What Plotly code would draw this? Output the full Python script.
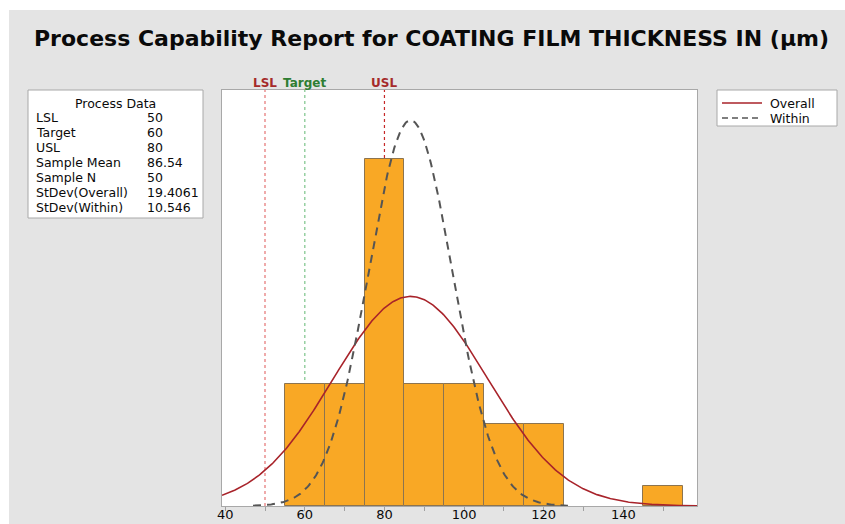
import numpy as np
import plotly.graph_objects as go

# ---------------- data ----------------
bin_left = [55, 65, 75, 85, 95, 105, 115, 145]
bin_counts = [6, 6, 17, 6, 6, 4, 4, 1]
bin_width = 10

lsl, target, usl = 50, 60, 80
sample_mean = 86.54
sample_n = 50
sd_overall = 19.4061
sd_within = 10.546

spec_names = ["LSL", "Target", "USL"]
spec_values = [lsl, target, usl]

pd_labels = ["LSL", "Target", "USL", "Sample Mean", "Sample N", "StDev(Overall)", "StDev(Within)"]
pd_values = ["50", "60", "80", "86.54", "50", "19.4061", "10.546"]

legend_names = ["Overall", "Within"]
x_ticks = [40, 60, 80, 100, 120, 140]
title_text = "Process Capability Report for COATING FILM THICKNESS IN (µm)"

# ---------------- layout helpers ----------------
W, H = 845, 524
L, R, T, B = 222, 697, 90, 506
pw, ph = R - L, B - T

def px(x):
    return (x - L) / pw

def py(y):
    return (B - y) / ph

FONT = "DejaVu Sans"
TXT = "#0A0A0A"

# ---------------- fitted normal curves (from the process data) ----------------
def normal_pdf(x, mu, sd):
    return np.exp(-0.5 * ((x - mu) / sd) ** 2) / (sd * np.sqrt(2 * np.pi))

x_lo, x_hi = 39.2, 158.5
xo = np.linspace(x_lo, x_hi, 400)
xw = np.linspace(sample_mean - 3.75 * sd_within, sample_mean + 3.75 * sd_within, 300)

OVERALL_COLOR = "#A8232A"
WITHIN_COLOR = "#555555"
WITHIN_DASH = "8px,6px"

fig = go.Figure()

centers = [b + bin_width / 2 for b in bin_left]
density = [c / (sample_n * bin_width) for c in bin_counts]
fig.add_trace(go.Bar(
    x=centers, y=density, width=[bin_width] * len(bin_left),
    marker=dict(color="#F9A825", line=dict(color="#8C7450", width=1)),
    showlegend=False, hoverinfo="skip",
))
fig.add_trace(go.Scatter(
    x=xo, y=normal_pdf(xo, sample_mean, sd_overall), mode="lines", name=legend_names[0],
    line=dict(color=OVERALL_COLOR, width=1.6), showlegend=False,
))
fig.add_trace(go.Scatter(
    x=xw, y=normal_pdf(xw, sample_mean, sd_within), mode="lines", name=legend_names[1],
    line=dict(color=WITHIN_COLOR, width=2, dash=WITHIN_DASH), showlegend=False,
))

shapes = []
annotations = []

# white strips at top/left of the image
shapes.append(dict(type="rect", xref="paper", yref="paper", x0=px(0), x1=px(W), y0=py(10), y1=py(0),
                   fillcolor="white", line=dict(width=0), layer="below"))
shapes.append(dict(type="rect", xref="paper", yref="paper", x0=px(0), x1=px(9), y0=py(H), y1=py(0),
                   fillcolor="white", line=dict(width=0), layer="below"))

# spec lines
spec_line_colors = ["#E57373", "#7CC48A", "#C62828"]
spec_text_colors = ["#A52A2A", "#2E7D32", "#A52A2A"]
for name, v, lc, tc in zip(spec_names, spec_values, spec_line_colors, spec_text_colors):
    shapes.append(dict(type="line", xref="x", yref="paper", x0=v, x1=v, y0=0, y1=1,
                       line=dict(color=lc, width=1.2, dash="3px,3px"), layer="below"))
    annotations.append(dict(x=v, y=py(83), xref="x", yref="paper", text=name, showarrow=False,
                            xanchor="center", yanchor="middle", borderpad=0,
                            font=dict(family=FONT, size=12, color=tc, weight="bold")))

# process data box
PD_SIZE = 12.5
shapes.append(dict(type="rect", xref="paper", yref="paper", x0=px(28), x1=px(203), y0=py(218), y1=py(90),
                   fillcolor="white", line=dict(color="#A8A8A8", width=1)))
annotations.append(dict(x=px(115.5), y=py(103), xref="paper", yref="paper", text="Process Data",
                        showarrow=False, xanchor="center", yanchor="middle", borderpad=0,
                        font=dict(family=FONT, size=PD_SIZE, color=TXT)))
for i, (lab, val) in enumerate(zip(pd_labels, pd_values)):
    yy = py(117.5 + 15 * i)
    annotations.append(dict(x=px(35), y=yy, xref="paper", yref="paper", text=lab, showarrow=False,
                            xanchor="left", yanchor="middle", borderpad=0,
                            font=dict(family=FONT, size=PD_SIZE, color=TXT)))
    annotations.append(dict(x=px(146), y=yy, xref="paper", yref="paper", text=val, showarrow=False,
                            xanchor="left", yanchor="middle", borderpad=0,
                            font=dict(family=FONT, size=PD_SIZE, color=TXT)))

# legend box (drawn)
shapes.append(dict(type="rect", xref="paper", yref="paper", x0=px(717), x1=px(837), y0=py(126), y1=py(90),
                   fillcolor="white", line=dict(color="#A8A8A8", width=1)))
for i, (nm, col, dsh, wd) in enumerate(zip(legend_names, [OVERALL_COLOR, WITHIN_COLOR],
                                            ["solid", "6px,4px"], [1.6, 1.6])):
    yl = 103 + 15 * i
    shapes.append(dict(type="line", xref="paper", yref="paper", x0=px(722), x1=px(762), y0=py(yl), y1=py(yl),
                       line=dict(color=col, width=wd, dash=dsh)))
    annotations.append(dict(x=px(769), y=py(yl), xref="paper", yref="paper", text=nm, showarrow=False,
                            xanchor="left", yanchor="middle", borderpad=0,
                            font=dict(family=FONT, size=PD_SIZE, color=TXT)))

# title
annotations.append(dict(x=px(431.5), y=py(38), xref="paper", yref="paper", text=title_text,
                        showarrow=False, xanchor="center", yanchor="middle",
                        font=dict(family=FONT, size=22, color=TXT, weight="bold")))

fig.update_layout(
    width=W, height=H,
    margin=dict(l=L, r=W - R, t=T, b=H - B),
    paper_bgcolor="#E4E4E4", plot_bgcolor="white",
    bargap=0, showlegend=False,
    shapes=shapes, annotations=annotations,
    xaxis=dict(range=[x_lo, x_hi], tickvals=x_ticks, ticks="outside", ticklen=4, tickcolor="#A0A0A0",
               showgrid=False, zeroline=False, showline=True, linecolor="#A8A8A8", mirror=True,
               automargin=False, ticklabelstandoff=-8,
               tickfont=dict(family=FONT, size=13, color=TXT),
               minor=dict(dtick=10, tick0=0, ticks="outside", ticklen=4, tickcolor="#A0A0A0", showgrid=False)),
    yaxis=dict(range=[0, 0.0408], showticklabels=False, ticks="", showgrid=False, zeroline=False,
               showline=True, linecolor="#A8A8A8", mirror=True, automargin=False),
)

fig.write_html("out.html")
